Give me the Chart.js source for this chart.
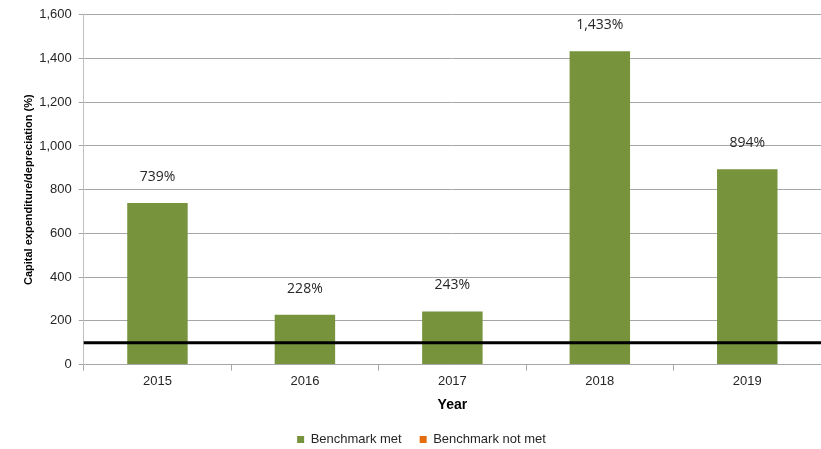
<!DOCTYPE html>
<html>
<head>
<meta charset="utf-8">
<script src="https://cdn.jsdelivr.net/npm/chart.js@4"></script>
<style>
  html, body { margin: 0; padding: 0; background: #fff; }
  #wrap { width: 821px; height: 449px; }
</style>
</head>
<body>
<div id="wrap"><canvas id="barChart"></canvas></div>
<script>
const years = ['2015', '2016', '2017', '2018', '2019'];
const ratioMet = [739, 228, 243, 1433, 894];
const ratioNotMet = [null, null, null, null, null];
const benchmark = 100;

// rótulos acima das barras e linha do benchmark
const extras = {
  id: 'extras',
  afterDatasetsDraw(chart) {
    const c = chart.ctx;
    const y = chart.scales.y;
    const area = chart.chartArea;
    const by = y.getPixelForValue(benchmark);
    c.save();
    c.strokeStyle = '#000';
    c.lineWidth = 3;
    c.beginPath();
    c.moveTo(area.left, by);
    c.lineTo(area.right, by);
    c.stroke();

    c.fillStyle = '#262626';
    c.font = '14px "Open Sans", Lato, sans-serif';
    c.textAlign = 'center';
    c.textBaseline = 'middle';
    chart.getDatasetMeta(0).data.forEach((bar, i) => {
      if (ratioMet[i] == null) return;
      c.fillText(ratioMet[i].toLocaleString('en-US') + '%', bar.x, bar.y - 26);
    });
    c.restore();
  }
};

new Chart(document.getElementById('barChart'), {
  type: 'bar',
  data: {
    labels: years,
    datasets: [{
      label: 'Benchmark met',
      data: ratioMet,
      backgroundColor: '#77933C',
      categoryPercentage: 0.41,
      barPercentage: 1,
      grouped: false
    }, {
      label: 'Benchmark not met',
      data: ratioNotMet,
      backgroundColor: '#E46C0A',
      categoryPercentage: 0.41,
      barPercentage: 1,
      grouped: false
    }]
  },
  options: {
    responsive: true,
    maintainAspectRatio: false,
    animation: false,
    layout: {
      padding: { top: 2, right: 0, left: 22, bottom: -7 }
    },
    plugins: {
      legend: {
        position: 'bottom',
        labels: {
          boxWidth: 7,
          boxHeight: 7,
          padding: 18,
          color: '#262626',
          font: { family: 'Arial, "Liberation Sans", sans-serif', size: 13 }
        }
      },
      tooltip: { enabled: false }
    },
    scales: {
      x: {
        grid: { drawOnChartArea: false, tickLength: 6, color: '#A6A6A6' },
        border: { color: '#A6A6A6' },
        ticks: {
          color: '#262626',
          padding: 3,
          font: { family: 'Arial, "Liberation Sans", sans-serif', size: 13 }
        },
        title: {
          display: true,
          text: 'Year',
          color: '#000',
          padding: { top: 5, bottom: 1 },
          font: { family: 'Arial, "Liberation Sans", sans-serif', size: 14, weight: 'bold' }
        }
      },
      y: {
        min: 0,
        max: 1600,
        ticks: {
          stepSize: 200,
          color: '#262626',
          padding: 7,
          font: { family: 'Arial, "Liberation Sans", sans-serif', size: 13 },
          callback: v => v.toLocaleString('en-US')
        },
        grid: { color: '#A6A6A6', tickLength: 5 },
        border: { color: '#BFBFBF' },
        title: {
          display: true,
          text: 'Capital expenditure/depreciation (%)',
          color: '#000',
          padding: { top: 0, bottom: -3 },
          font: { family: 'Arial, "Liberation Sans", sans-serif', size: 11, weight: 'bold' }
        }
      }
    }
  },
  plugins: [extras]
});
</script>
</body>
</html>
